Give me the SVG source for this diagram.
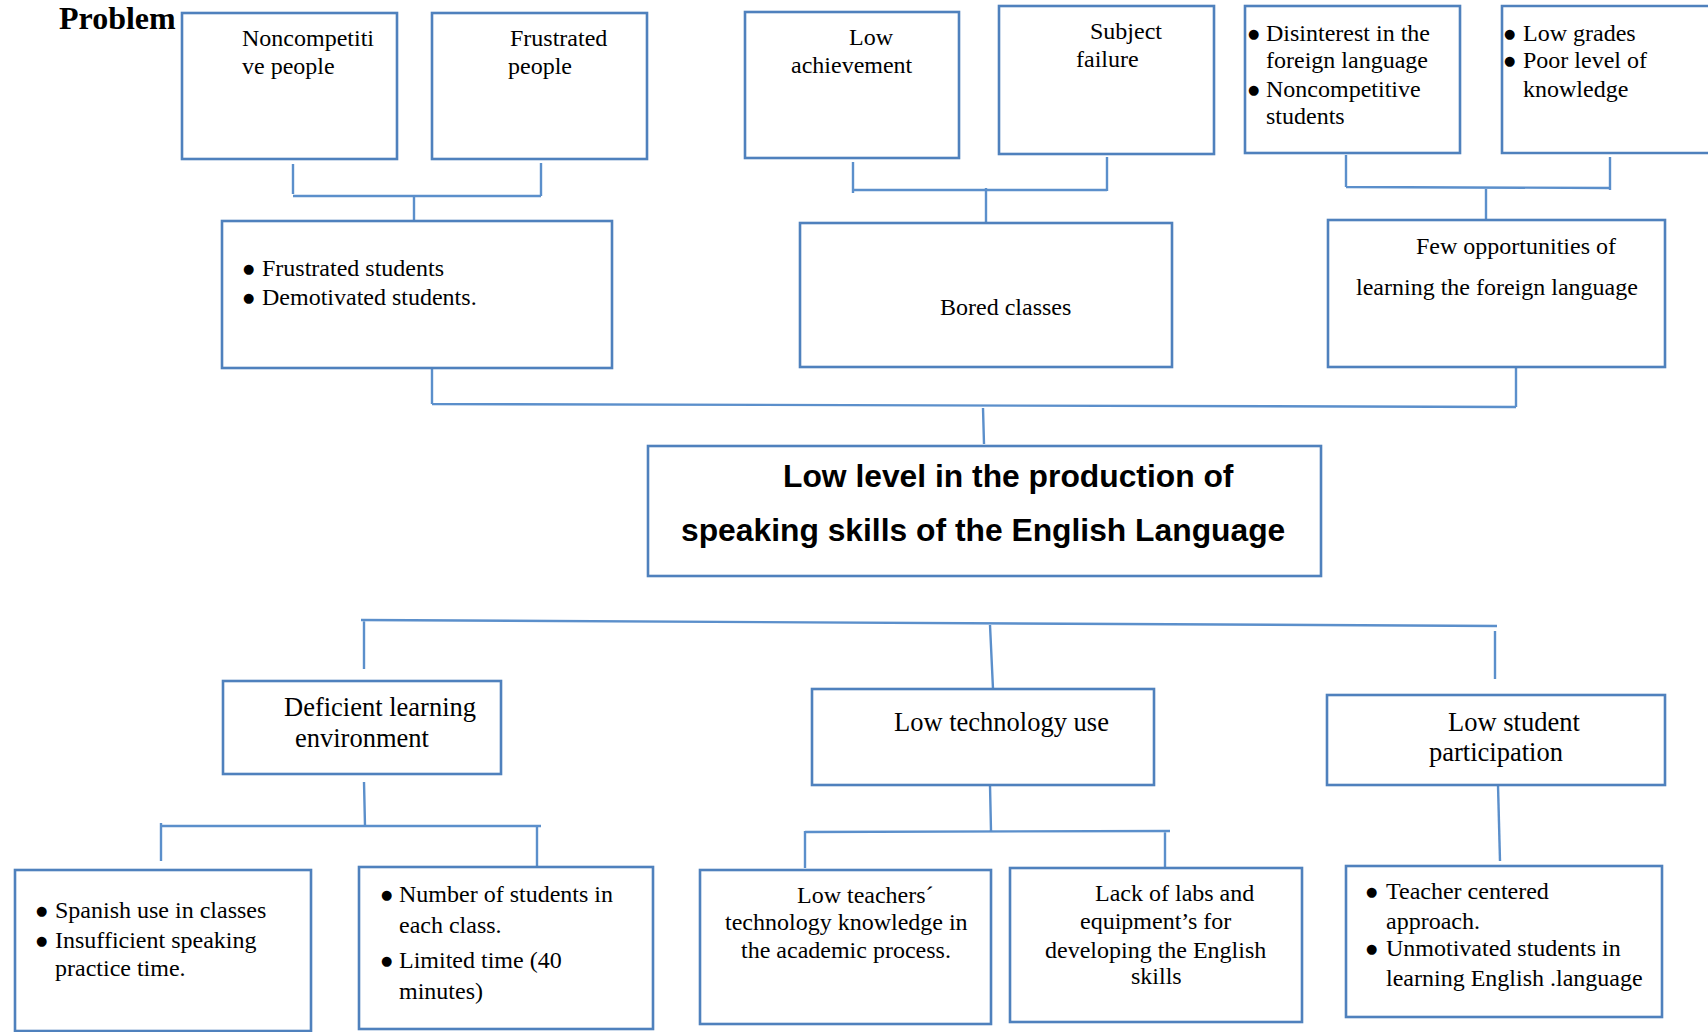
<svg xmlns="http://www.w3.org/2000/svg" width="1708" height="1032" viewBox="0 0 1708 1032">
<style>
.box{fill:#fff;stroke:#4F81BD;stroke-width:2.6}
.ln{stroke:#5B8FCB;stroke-width:2.4;fill:none}
.t{font-family:"Liberation Serif","Times New Roman",serif;font-size:24px;fill:#000}
.b{font-family:"DejaVu Sans",sans-serif;font-size:13px;fill:#000}
.h{font-family:"Liberation Serif","Times New Roman",serif;font-size:26.5px;fill:#000}
.m{font-family:"Liberation Sans",Arial,sans-serif;font-size:31.8px;font-weight:bold;fill:#000}
.p{font-family:"Liberation Serif","Times New Roman",serif;font-size:32px;font-weight:bold;fill:#000}
</style>
<rect width="1708" height="1032" fill="#fff"/>
<text class="p" x="59" y="29">Problem</text>
<g id="connectors">
<path class="ln" d="M293 164V194M541 163V196M293 196H541M414 196V221"/>
<path class="ln" d="M853 162V193M1107 157V191M853 190H1107M986 188V222"/>
<path class="ln" d="M1346 155V187M1610 157V190M1346 187L1610 188M1486 187V220"/>
<path class="ln" d="M432 368V404M1516 367V407M432 404L1516 407M983 408L984 444"/>
<path class="ln" d="M361 620L1497 626M364 621V669M990 625L993 689M1495 631V679"/>
<path class="ln" d="M364 782L365 826M161 823V861M161 826H541M537 826V866"/>
<path class="ln" d="M990 785L991 831M805 832L1170 831M805 831V868M1165 831V867"/>
<path class="ln" d="M1498 785L1500 861"/>
</g>
<g id="n1"><rect class="box" x="182" y="13" width="215" height="146"/>
<text class="t" x="242" y="46">Noncompetiti</text><text class="t" x="242" y="74">ve people</text></g>
<g id="n2"><rect class="box" x="432" y="13" width="215" height="146"/>
<text class="t" x="510" y="46">Frustrated</text><text class="t" x="508" y="74">people</text></g>
<g id="n3"><rect class="box" x="745" y="12" width="214" height="146"/>
<text class="t" x="849" y="45">Low</text><text class="t" x="791" y="73">achievement</text></g>
<g id="n4"><rect class="box" x="999" y="6" width="215" height="148"/>
<text class="t" x="1090" y="39">Subject</text><text class="t" x="1076" y="67">failure</text></g>
<g id="n5"><rect class="box" x="1245" y="6" width="215" height="147"/>
<text class="b" x="1248" y="38">●</text><text class="t" x="1266" y="41">Disinterest in the</text>
<text class="t" x="1266" y="68">foreign language</text>
<text class="b" x="1248" y="94">●</text><text class="t" x="1266" y="97">Noncompetitive</text>
<text class="t" x="1266" y="124">students</text></g>
<g id="n6"><path class="box" d="M1712 6H1502V153H1712"/>
<text class="b" x="1504" y="38">●</text><text class="t" x="1523" y="41">Low grades</text>
<text class="b" x="1504" y="65">●</text><text class="t" x="1523" y="68">Poor level of</text>
<text class="t" x="1523" y="97">knowledge</text></g>
<g id="n7"><rect class="box" x="222" y="221" width="390" height="147"/>
<text class="b" x="243" y="273">●</text><text class="t" x="262" y="276">Frustrated students</text>
<text class="b" x="243" y="302">●</text><text class="t" x="262" y="305">Demotivated students.</text></g>
<g id="n8"><rect class="box" x="800" y="223" width="372" height="144"/>
<text class="t" x="940" y="315">Bored classes</text></g>
<g id="n9"><rect class="box" x="1328" y="220" width="337" height="147"/>
<text class="t" x="1416" y="254">Few opportunities of</text>
<text class="t" x="1356" y="295">learning the foreign language</text></g>
<g id="center"><rect class="box" x="648" y="446" width="673" height="130"/>
<text class="m" x="783" y="487">Low level in the production of</text>
<text class="m" x="681" y="541">speaking skills of the English Language</text></g>
<g id="n10"><rect class="box" x="223" y="681" width="278" height="93"/>
<text class="h" x="284" y="716">Deficient learning</text><text class="h" x="295" y="747">environment</text></g>
<g id="n11"><rect class="box" x="812" y="689" width="342" height="96"/>
<text class="h" x="894" y="731">Low technology use</text></g>
<g id="n12"><rect class="box" x="1327" y="695" width="338" height="90"/>
<text class="h" x="1448" y="731">Low student</text><text class="h" x="1429" y="761">participation</text></g>
<g id="n13"><rect class="box" x="15" y="870" width="296" height="161"/>
<text class="b" x="36" y="915">●</text><text class="t" x="55" y="918">Spanish use in classes</text>
<text class="b" x="36" y="945">●</text><text class="t" x="55" y="948">Insufficient speaking</text>
<text class="t" x="55" y="976">practice time.</text></g>
<g id="n14"><rect class="box" x="359" y="867" width="294" height="162"/>
<text class="b" x="381" y="899">●</text><text class="t" x="399" y="902">Number of students in</text>
<text class="t" x="399" y="933">each class.</text>
<text class="b" x="381" y="965">●</text><text class="t" x="399" y="968">Limited time (40</text>
<text class="t" x="399" y="999">minutes)</text></g>
<g id="n15"><rect class="box" x="700" y="870" width="291" height="154"/>
<text class="t" x="797" y="903">Low teachers´</text>
<text class="t" x="725" y="930">technology knowledge in</text>
<text class="t" x="741" y="958">the academic process.</text></g>
<g id="n16"><rect class="box" x="1010" y="868" width="292" height="154"/>
<text class="t" x="1095" y="901">Lack of labs and</text>
<text class="t" x="1080" y="929">equipment’s for</text>
<text class="t" x="1045" y="958">developing the English</text>
<text class="t" x="1131" y="984">skills</text></g>
<g id="n17"><rect class="box" x="1346" y="866" width="316" height="151"/>
<text class="b" x="1366" y="896">●</text><text class="t" x="1386" y="899">Teacher centered</text>
<text class="t" x="1386" y="929">approach.</text>
<text class="b" x="1366" y="953">●</text><text class="t" x="1386" y="956">Unmotivated students in</text>
<text class="t" x="1386" y="986">learning English .language</text></g>
</svg>
